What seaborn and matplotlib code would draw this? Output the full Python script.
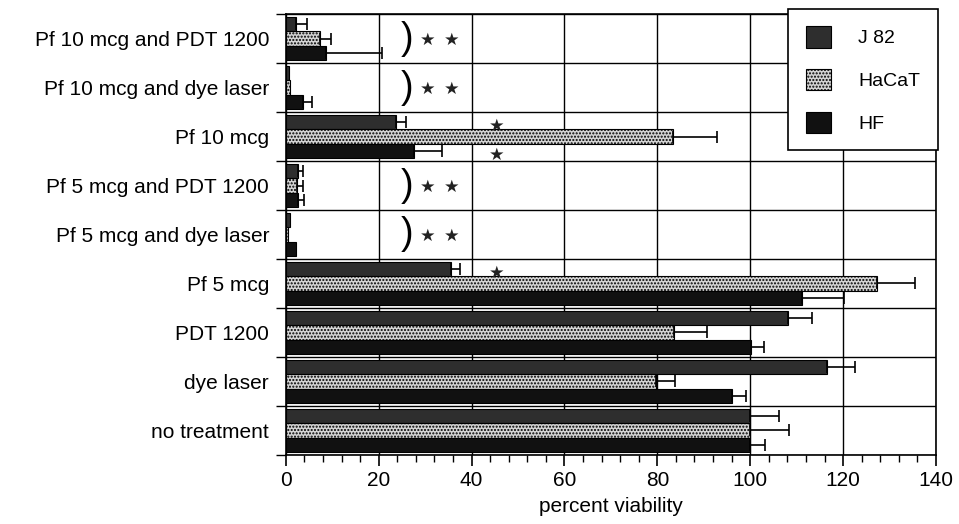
import matplotlib
matplotlib.use("Agg")
import matplotlib.pyplot as plt
from matplotlib.ticker import MultipleLocator
import numpy as np
import pandas as pd
import seaborn as sns

treatments = ["Pf 10 mcg and PDT 1200", "Pf 10 mcg and dye laser", "Pf 10 mcg",
              "Pf 5 mcg and PDT 1200", "Pf 5 mcg and dye laser", "Pf 5 mcg",
              "PDT 1200", "dye laser", "no treatment"]
cells = ["J 82", "HaCaT", "HF"]

j82 = [2.3, 0.8, 23.8, 2.6, 0.9, 35.6, 108.2, 116.6, 100.0]
j82_err = [2.2, 0.0, 2.0, 1.2, 0.0, 2.0, 5.0, 6.0, 6.3]
hacat = [7.4, 1.0, 83.3, 2.4, 0.5, 127.4, 83.6, 79.8, 100.0]
hacat_err = [2.3, 0.0, 9.5, 1.4, 0.0, 8.0, 7.1, 4.0, 8.4]
hf = [8.7, 3.7, 27.6, 2.6, 2.2, 111.2, 100.1, 96.0, 100.0]
hf_err = [12.0, 1.9, 6.0, 1.4, 0.0, 9.0, 2.9, 3.2, 3.2]

# significance marks
double_star = ["Pf 10 mcg and PDT 1200", "Pf 10 mcg and dye laser",
               "Pf 5 mcg and PDT 1200", "Pf 5 mcg and dye laser"]
single_star = [("Pf 10 mcg", "J 82"), ("Pf 10 mcg", "HF"), ("Pf 5 mcg", "J 82")]

df = pd.DataFrame({
    "treatment": treatments * 3,
    "cell": [c for c in cells for _ in treatments],
    "viability": j82 + hacat + hf,
    "err": j82_err + hacat_err + hf_err,
})

plt.rcParams["font.family"] = ["Liberation Sans", "DejaVu Sans"]
fig = plt.figure(figsize=(9.59, 5.24), dpi=100)
ax = fig.add_axes([0.298, 0.132, 0.678, 0.841])

sns.barplot(data=df, y="treatment", x="viability", hue="cell", order=treatments,
            hue_order=cells, orient="h", errorbar=None, width=0.88, ax=ax,
            palette=["#2e2e2e", "#d4d4d4", "#111111"], edgecolor="black",
            linewidth=0.8, saturation=1, zorder=3)

errs = {"J 82": j82_err, "HaCaT": hacat_err, "HF": hf_err}
bar_pos = {}
for cont, cell in zip(ax.containers, cells):
    for bar, t, e in zip(cont, treatments, errs[cell]):
        yc = bar.get_y() + bar.get_height() / 2
        bar_pos[(t, cell)] = (bar.get_width(), yc)
        if cell == "HaCaT":
            bar.set_hatch(".....")
        if e > 0:
            ax.errorbar(bar.get_width(), yc, xerr=[[0], [e]], fmt="none",
                        ecolor="black", elinewidth=1.2, capsize=4, capthick=1.2, zorder=4)

star = dict(fontsize=12.5, va="center", ha="center", family="DejaVu Sans", color="#222222")
for t in double_star:
    y = treatments.index(t)
    ax.text(26.2, y, ")", fontsize=27, va="center", ha="center")
    ax.text(30.6, y + 0.02, "★", **star)
    ax.text(35.8, y + 0.02, "★", **star)
for t, cell in single_star:
    _, yc = bar_pos[(t, cell)]
    ax.text(45.5, yc + 0.08, "★", **star)

ax.set_xlim(0, 140)
ax.set_ylim(len(treatments) - 0.5, -0.5)
ax.xaxis.set_major_locator(MultipleLocator(20))
ax.xaxis.set_minor_locator(MultipleLocator(4))
ax.set_yticks(np.arange(len(treatments)))
ax.set_yticks(np.arange(len(treatments) + 1) - 0.5, minor=True)
ax.tick_params(axis="y", which="major", length=0, labelsize=15, pad=12)
ax.tick_params(axis="y", which="minor", length=7, width=1, direction="out")
ax.tick_params(axis="x", which="major", length=8, width=1.2, labelsize=15, direction="out")
ax.tick_params(axis="x", which="minor", length=5, width=1, direction="out")
ax.grid(axis="x", which="major", color="black", linewidth=1, zorder=0)
ax.grid(axis="y", which="minor", color="black", linewidth=1, zorder=0)
ax.set_axisbelow(True)
for s in ax.spines.values():
    s.set_linewidth(1.2)
ax.set_xlabel("percent viability", fontsize=15, labelpad=5)
ax.set_ylabel("")

handles = [cont[0] for cont in ax.containers]
ax.legend(handles, cells, loc="upper right", bbox_to_anchor=(1.003, 1.012),
          fontsize=14, frameon=True, fancybox=False, edgecolor="black",
          framealpha=1, handlelength=1.3, handleheight=1.3, labelspacing=1.1,
          borderpad=0.9, handletextpad=1.4, borderaxespad=0)
ax.get_legend().get_frame().set_linewidth(1.2)

fig.savefig("out.png", dpi=100)
